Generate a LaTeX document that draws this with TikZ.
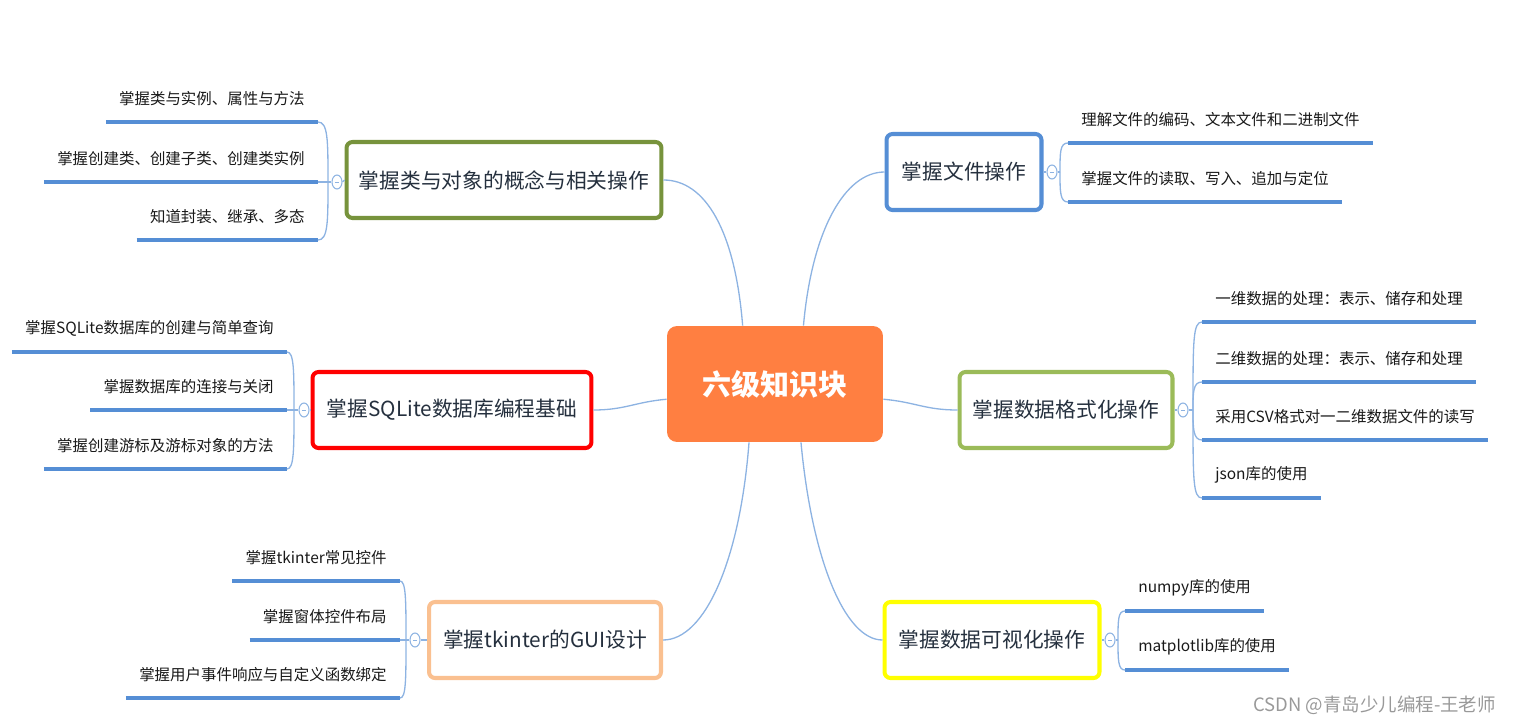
\documentclass[tikz,border=0pt]{standalone}
\usepackage{fontspec}
\setmainfont{Noto Sans CJK SC}
\usetikzlibrary{shapes.geometric}

\definecolor{hubfill}{HTML}{FF7F41}
\definecolor{branchtext}{HTML}{25303E}
\definecolor{leafline}{HTML}{558ED5}
\definecolor{linkblue}{HTML}{8DB3E2}
\definecolor{classgreen}{HTML}{77933C}
\definecolor{fileblue}{HTML}{558ED5}
\definecolor{sqlred}{HTML}{FF0000}
\definecolor{fmtgreen}{HTML}{9BBB59}
\definecolor{guiorange}{HTML}{FAC090}
\definecolor{visyellow}{HTML}{FFFF00}

\begin{document}
\begin{tikzpicture}[x=0.02cm, y=-0.02cm,
    hub/.style={rectangle, rounded corners=0.2cm, fill=hubfill, text=white, minimum width=4.32cm, minimum height=2.32cm, font=\fontsize{16.5}{19}\selectfont\bfseries},
    branch/.style={rectangle, rounded corners=0.12cm, draw, line width=2.3pt, fill=white, minimum height=1.52cm, text=branchtext, font=\fontsize{11.8}{14}\selectfont},
    leaf/.style={inner xsep=0.26cm, inner ysep=0pt, minimum height=0.92cm, text=black!90, font=\fontsize{8.8}{10.5}\selectfont},
    uline/.style={draw=leafline, line width=2.3pt},
    link/.style={draw=linkblue, line width=0.75pt},
    fold/.style={ellipse, draw=linkblue, fill=white, line width=0.6pt, minimum width=0.2cm, minimum height=0.28cm, inner sep=0pt, text=linkblue}
]
\useasboundingbox (0,0) rectangle (1516,724);

% Centre
\node[hub] (hub) at (775,384) {六级知识块};

% Branches
\node[branch, draw=classgreen, minimum width=6.3cm] (cls) at (504,180) {掌握类与对象的概念与相关操作};
\node[branch, draw=fileblue, minimum width=3.1cm] (file) at (964,172) {掌握文件操作};
\node[branch, draw=sqlred, minimum width=5.58cm] (sql) at (452,410) {掌握SQLite数据库编程基础};
\node[branch, draw=fmtgreen, minimum width=4.26cm] (fmt) at (1066,410) {掌握数据格式化操作};
\node[branch, draw=guiorange, minimum width=4.64cm] (gui) at (545,640) {掌握tkinter的GUI设计};
\node[branch, draw=visyellow, minimum width=4.3cm] (vis) at (992,640) {掌握数据可视化操作};

\draw[link] (hub.119) .. controls (735,230) and (705,180) .. (cls.east);
\draw[link] (hub.64) .. controls (812,230) and (845,172) .. (file.west);
\draw[link] (hub.188) .. controls (635,402) and (625,410) .. (sql.east);
\draw[link] (hub.352) .. controls (915,402) and (925,410) .. (fmt.west);
\draw[link] (hub.246) .. controls (740,560) and (705,640) .. (gui.east);
\draw[link] (hub.294) .. controls (812,560) and (845,640) .. (vis.west);

% Classes and objects (top left)
\node[leaf, anchor=south east] (a1) at (318,122) {掌握类与实例、属性与方法};
\node[leaf, anchor=south east] (a2) at (318,182) {掌握创建类、创建子类、创建类实例};
\node[leaf, anchor=south east] (a3) at (318,240) {知道封装、继承、多态};
\draw[uline] (a1.south west) -- (a1.south east);
\draw[uline] (a2.south west) -- (a2.south east);
\draw[uline] (a3.south west) -- (a3.south east);
\coordinate (aj) at (328,182);
\draw[link] (aj) .. controls (328,140) and (328,122) .. (a1.south east);
\draw[link] (aj) .. controls (328,222) and (328,240) .. (a3.south east);
\node[fold] (ak) at (337,182) {\rule{2.5pt}{0.5pt}};
\draw[link] (ak.west) -- (a2.south east);
\draw[link] (ak.east) -- (cls.west);

% Files (top right)
\node[leaf, anchor=south west] (b1) at (1068,143) {理解文件的编码、文本文件和二进制文件};
\node[leaf, anchor=south west] (b2) at (1068,202) {掌握文件的读取、写入、追加与定位};
\draw[uline] (b1.south west) -- (b1.south east);
\draw[uline] (b2.south west) -- (b2.south east);
\coordinate (bj) at (1060,172);
\draw[link] (bj) .. controls (1060,152) and (1060,143) .. (b1.south west);
\draw[link] (bj) .. controls (1060,192) and (1060,202) .. (b2.south west);
\node[fold] (bk) at (1052,172) {\rule{2.5pt}{0.5pt}};
\draw[link] (bk.east) -- (bj);
\draw[link] (bk.west) -- (file.east);

% SQLite (middle left)
\node[leaf, anchor=south east] (c1) at (287,352) {掌握SQLite数据库的创建与简单查询};
\node[leaf, anchor=south east] (c2) at (287,410) {掌握数据库的连接与关闭};
\node[leaf, anchor=south east] (c3) at (287,469) {掌握创建游标及游标对象的方法};
\draw[uline] (c1.south west) -- (c1.south east);
\draw[uline] (c2.south west) -- (c2.south east);
\draw[uline] (c3.south west) -- (c3.south east);
\coordinate (cj) at (294,410);
\draw[link] (cj) .. controls (294,370) and (294,352) .. (c1.south east);
\draw[link] (cj) .. controls (294,450) and (294,469) .. (c3.south east);
\node[fold] (ck) at (304,410) {\rule{2.5pt}{0.5pt}};
\draw[link] (ck.west) -- (c2.south east);
\draw[link] (ck.east) -- (sql.west);

% Data formats (middle right)
\node[leaf, anchor=south west] (d1) at (1202,322) {一维数据的处理：表示、储存和处理};
\node[leaf, anchor=south west] (d2) at (1202,382) {二维数据的处理：表示、储存和处理};
\node[leaf, anchor=south west] (d3) at (1202,440) {采用CSV格式对一二维数据文件的读写};
\node[leaf, anchor=south west] (d4) at (1202,498) {json库的使用};
\draw[uline] (d1.south west) -- (d1.south east);
\draw[uline] (d2.south west) -- (d2.south east);
\draw[uline] (d3.south west) -- (d3.south east);
\draw[uline] (d4.south west) -- (d4.south east);
\coordinate (dj) at (1193,410);
\draw[link] (dj) .. controls (1193,340) and (1193,322) .. (d1.south west);
\draw[link] (dj) .. controls (1193,392) and (1193,382) .. (d2.south west);
\draw[link] (dj) .. controls (1193,428) and (1193,440) .. (d3.south west);
\draw[link] (dj) .. controls (1193,480) and (1193,498) .. (d4.south west);
\node[fold] (dk) at (1183,410) {\rule{2.5pt}{0.5pt}};
\draw[link] (dk.east) -- (dj);
\draw[link] (dk.west) -- (fmt.east);

% tkinter (bottom left)
\node[leaf, anchor=south east] (e1) at (400,581) {掌握tkinter常见控件};
\node[leaf, anchor=south east] (e2) at (400,640) {掌握窗体控件布局};
\node[leaf, anchor=south east] (e3) at (400,698) {掌握用户事件响应与自定义函数绑定};
\draw[uline] (e1.south west) -- (e1.south east);
\draw[uline] (e2.south west) -- (e2.south east);
\draw[uline] (e3.south west) -- (e3.south east);
\coordinate (ej) at (406,640);
\draw[link] (ej) .. controls (406,600) and (406,581) .. (e1.south east);
\draw[link] (ej) .. controls (406,680) and (406,698) .. (e3.south east);
\node[fold] (ek) at (415,640) {\rule{2.5pt}{0.5pt}};
\draw[link] (ek.west) -- (e2.south east);
\draw[link] (ek.east) -- (gui.west);

% Visualisation (bottom right)
\node[leaf, anchor=south west] (f1) at (1125,611) {numpy库的使用};
\node[leaf, anchor=south west] (f2) at (1125,670) {matplotlib库的使用};
\draw[uline] (f1.south west) -- (f1.south east);
\draw[uline] (f2.south west) -- (f2.south east);
\coordinate (fj) at (1118,640);
\draw[link] (fj) .. controls (1118,620) and (1118,611) .. (f1.south west);
\draw[link] (fj) .. controls (1118,660) and (1118,670) .. (f2.south west);
\node[fold] (fk) at (1110,640) {\rule{2.5pt}{0.5pt}};
\draw[link] (fk.east) -- (fj);
\draw[link] (fk.west) -- (vis.east);

% Watermark
\node[anchor=east, text=black!40, font=\fontsize{10.5}{12}\selectfont] (mark) at (1502,705) {CSDN @青岛少儿编程-王老师};

\end{tikzpicture}
\end{document}
